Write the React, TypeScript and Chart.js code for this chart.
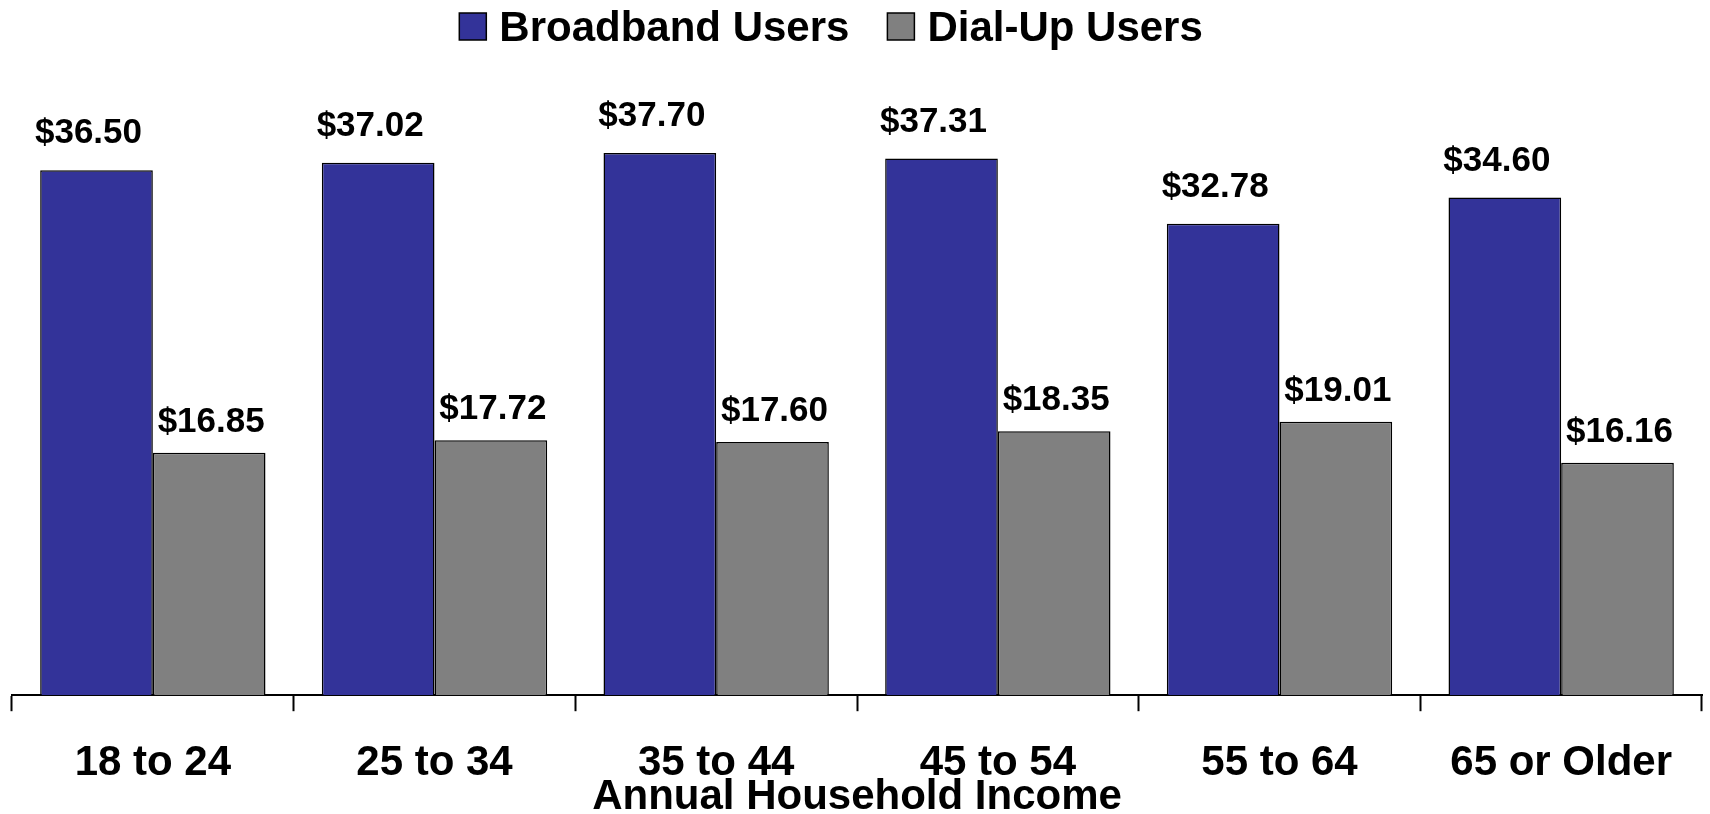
import React, { useEffect, useRef } from "react";
import { Chart, registerables } from "chart.js";

Chart.register(...registerables);

const categories = ["18 to 24", "25 to 34", "35 to 44", "45 to 54", "55 to 64", "65 or Older"];
const broadbandValues = [36.5, 37.02, 37.7, 37.31, 32.78, 34.6];
const dialUpValues = [16.85, 17.72, 17.6, 18.35, 19.01, 16.16];
const seriesNames = ["Broadband Users", "Dial-Up Users"];
const axisTitle = "Annual Household Income";

const FONT = "'Liberation Sans', Arial, Helvetica, sans-serif";

const valueLabelPlugin = {
  id: "valueLabels",
  afterDatasetsDraw(chart: any) {
    const ctx = chart.ctx;
    ctx.save();
    ctx.font = `bold 35px ${FONT}`;
    ctx.fillStyle = "#000";
    ctx.textAlign = "center";
    ctx.textBaseline = "alphabetic";
    const gaps = [27, 21];
    const dxs = [-8, 2];
    chart.data.datasets.forEach((ds: any, di: number) => {
      const meta = chart.getDatasetMeta(di);
      meta.data.forEach((el: any, i: number) => {
        const v = ds.data[i] as number;
        ctx.fillText(`$${v.toFixed(2)}`, el.x + dxs[di], el.y - gaps[di]);
      });
    });
    ctx.restore();
  },
};

const customLegendPlugin = {
  id: "customLegend",
  afterDraw(chart: any) {
    const ctx = chart.ctx;
    const box = 27;
    const boxGap = 13;
    const itemGap = 38;
    const baseline = 41;
    const boxTop = 13;
    ctx.save();
    ctx.font = `bold 42px ${FONT}`;
    const items = chart.data.datasets.map((ds: any) => ({
      text: ds.label as string,
      color: ds.backgroundColor as string,
      w: ctx.measureText(ds.label).width,
    }));
    const total = items.reduce((s: number, it: any, i: number) => s + box + boxGap + it.w + (i > 0 ? itemGap : 0), 0);
    let x = chart.width * 0.486 - total / 2;
    items.forEach((it: any) => {
      ctx.fillStyle = it.color;
      ctx.fillRect(x, boxTop, box, box);
      ctx.lineWidth = 1.5;
      ctx.strokeStyle = "#000";
      ctx.strokeRect(x, boxTop, box, box);
      ctx.fillStyle = "#000";
      ctx.textAlign = "left";
      ctx.textBaseline = "alphabetic";
      ctx.fillText(it.text, x + box + boxGap, baseline);
      x += box + boxGap + it.w + itemGap;
    });
    ctx.restore();
  },
};

export default function App() {
  const ref = useRef<HTMLCanvasElement | null>(null);
  useEffect(() => {
    if (!ref.current) return;
    const chart = new Chart(ref.current, {
      type: "bar",
      data: {
        labels: categories,
        datasets: [
          {
            label: seriesNames[0],
            data: broadbandValues,
            backgroundColor: "#333399",
            borderColor: "#000000",
            borderWidth: 1.5,
            categoryPercentage: 0.8,
            barPercentage: 1.0,
          },
          {
            label: seriesNames[1],
            data: dialUpValues,
            backgroundColor: "#808080",
            borderColor: "#000000",
            borderWidth: 1.5,
            categoryPercentage: 0.8,
            barPercentage: 1.0,
          },
        ],
      },
      options: {
        responsive: true,
        maintainAspectRatio: false,
        animation: false,
        layout: { padding: { left: 12, right: 8, top: 48, bottom: 0 } },
        plugins: {
          legend: { display: false },
          tooltip: { enabled: false },
        },
        scales: {
          x: {
            grid: {
              display: true,
              offset: true,
              drawOnChartArea: false,
              drawTicks: true,
              tickLength: 16,
              tickWidth: 2,
              tickColor: "#000",
            },
            border: { display: true, color: "#000", width: 2 },
            ticks: {
              color: "#000",
              padding: 27,
              font: { family: FONT, size: 42, weight: "bold" },
            },
            title: {
              display: true,
              text: axisTitle,
              color: "#000",
              font: { family: FONT, size: 42, weight: "bold" },
              padding: { top: -43, bottom: -9 },
            },
          },
          y: {
            display: false,
            min: 0,
            max: 45,
          },
        },
      },
      plugins: [valueLabelPlugin, customLegendPlugin],
    });
    return () => chart.destroy();
  }, []);

  return (
    <div style={{ position: "fixed", left: 0, top: 0, width: 1710, height: 814, background: "#fff" }}>
      <canvas ref={ref} />
    </div>
  );
}
